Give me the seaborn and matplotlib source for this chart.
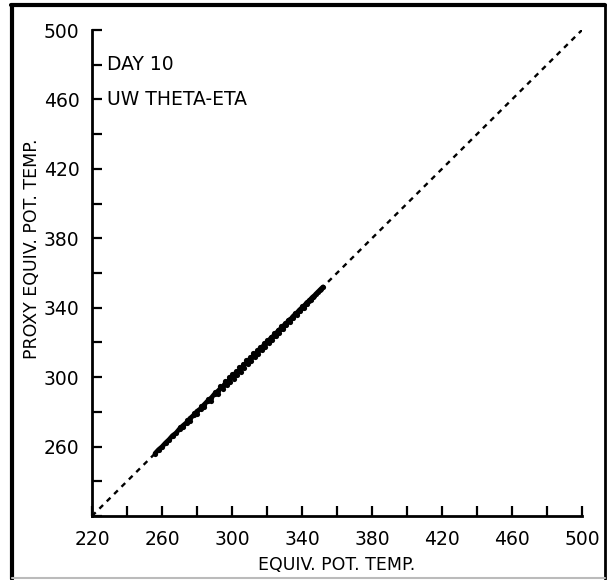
import matplotlib
matplotlib.use("Agg")
import matplotlib.pyplot as plt
import seaborn as sns
import pandas as pd
from matplotlib.lines import Line2D

# ---- data ----
equiv_pot_temp = [256, 258, 260, 262, 264, 266, 268, 270, 272, 274, 276, 278, 280,
                  282, 284, 286, 288, 290, 292, 294, 295, 296, 297, 298, 299, 300,
                  301, 302, 303, 304, 305, 306, 307, 308, 309, 310, 311, 312, 313,
                  314, 315, 316, 317, 318, 319, 320, 321, 322, 323, 324, 325, 326,
                  327, 328, 329, 330, 331, 332, 333, 334, 335, 336, 337, 338, 339,
                  340, 341, 342, 343, 344, 345, 346, 347, 348, 349, 350, 351, 352,
                  # second, offset strand that thickens the cloud
                  270, 274, 278, 282, 286, 290, 293, 296, 298, 300, 302, 304, 306,
                  308, 310, 312, 314, 316, 318, 320, 322, 324, 326, 328, 330, 332,
                  334, 336, 338, 340, 342, 344, 346,
                  272, 276, 280, 284, 288, 292, 295, 297, 299, 301, 303, 305, 307,
                  309, 311, 313, 315, 317, 319, 321, 323, 325, 327, 329, 331, 333,
                  335, 337, 339, 341, 343, 345]
proxy_equiv_pot_temp = [256.0, 258.2, 259.9, 262.1, 264.0, 266.3, 267.8, 270.2, 272.1,
                        273.8, 276.2, 278.0, 280.3, 281.8, 284.1, 286.2, 287.9, 290.3,
                        292.0, 294.2, 294.8, 296.3, 297.1, 298.0, 299.4, 300.1, 300.8,
                        302.3, 303.1, 303.8, 305.2, 306.1, 307.4, 307.9, 309.2, 310.3,
                        310.9, 312.2, 313.3, 314.0, 315.1, 316.4, 316.8, 318.2, 319.3,
                        320.1, 320.8, 322.3, 323.2, 323.9, 325.1, 326.2, 327.3, 327.9,
                        329.1, 330.2, 330.9, 332.1, 333.2, 333.9, 335.1, 336.2, 336.9,
                        338.1, 339.0, 340.1, 340.9, 342.0, 343.1, 343.9, 345.0, 346.1,
                        346.9, 348.0, 349.0, 350.0, 351.0, 352.0,
                        271.0, 275.2, 279.3, 283.4, 287.5, 291.6, 294.7, 297.8, 299.8,
                        301.9, 303.8, 305.9, 307.7, 309.8, 311.6, 313.7, 315.5, 317.6,
                        319.4, 321.5, 323.3, 325.4, 327.2, 329.3, 331.1, 333.0, 334.8,
                        336.9, 338.6, 340.7, 342.5, 344.4, 346.4,
                        271.0, 274.8, 278.7, 282.6, 286.4, 290.3, 293.1, 295.2, 297.2,
                        299.1, 301.3, 303.2, 305.4, 307.3, 309.5, 311.4, 313.5, 315.4,
                        317.5, 319.5, 321.6, 323.6, 325.7, 327.7, 329.8, 331.8, 333.9,
                        335.8, 338.0, 340.1, 342.2, 344.3]
x_tick_values = [220, 240, 260, 280, 300, 320, 340, 360, 380, 400, 420, 440, 460, 480, 500]
x_tick_labels = ["220", "", "260", "", "300", "", "340", "", "380", "", "420", "", "460", "", "500"]
y_tick_values = [220, 240, 260, 280, 300, 320, 340, 360, 380, 400, 420, 440, 460, 480, 500]
y_tick_labels = ["", "", "260", "", "300", "", "340", "", "380", "", "420", "", "460", "", "500"]
x_label = "EQUIV. POT. TEMP."
y_label = "PROXY EQUIV. POT. TEMP."
annotation_lines = ["DAY 10", "UW THETA-ETA"]
annotation_y = [480, 460]

df = pd.DataFrame({"x": equiv_pot_temp, "y": proxy_equiv_pot_temp})
main = df.iloc[:78]

sns.set_style("white")
plt.rcParams["font.family"] = ["DejaVu Sans"]
plt.rcParams["text.color"] = "black"

fig = plt.figure(figsize=(6.07, 5.80), dpi=100)
ax = fig.add_axes([92 / 607, 1 - 516 / 580, 490 / 607, 486 / 580])

ax.axline((220, 220), slope=1, color="black", linestyle=(0, (2.2, 2.2)),
          linewidth=1.7, zorder=1)
sns.lineplot(data=main, x="x", y="y", ax=ax, color="black", linewidth=3.4,
             sort=True, estimator=None, legend=False, zorder=2)
sns.scatterplot(data=df, x="x", y="y", ax=ax, color="black", s=14,
                edgecolor="black", linewidth=0, legend=False, zorder=3)

ax.set_xlim(220, 500)
ax.set_ylim(220, 500)
ax.set_xticks(x_tick_values)
ax.set_xticklabels(x_tick_labels)
ax.set_yticks(y_tick_values)
ax.set_yticklabels(y_tick_labels)
ax.tick_params(axis="both", which="major", direction="in", length=7, width=1.6,
               labelsize=13.5, colors="black", bottom=True, left=True)
ax.tick_params(axis="x", pad=10)
ax.tick_params(axis="y", pad=9)
for s in ["top", "right"]:
    ax.spines[s].set_visible(False)
for s in ["left", "bottom"]:
    ax.spines[s].set_color("black")
    ax.spines[s].set_linewidth(2)
ax.set_xlabel(x_label, fontsize=12.5, labelpad=5, color="black")
ax.set_ylabel(y_label, fontsize=12.5, labelpad=3, color="black")
ax.yaxis.set_label_coords(-0.105, 0.55)

for txt, yv in zip(annotation_lines, annotation_y):
    ax.text(228.5, yv, txt, fontsize=13.5, va="center", ha="left", color="black")

# figure frame
fig.add_artist(Line2D([12 / 607, 12 / 607], [1 / 580, 575 / 580], color="black", linewidth=3))
fig.add_artist(Line2D([11 / 607, 605 / 607], [575 / 580, 575 / 580], color="black", linewidth=3))
fig.add_artist(Line2D([605 / 607, 605 / 607], [1 / 580, 575 / 580], color="black", linewidth=2))
fig.add_artist(Line2D([12 / 607, 605 / 607], [2 / 580, 2 / 580], color="#bbbbbb", linewidth=1.5))

fig.savefig("out.png", dpi=100)
